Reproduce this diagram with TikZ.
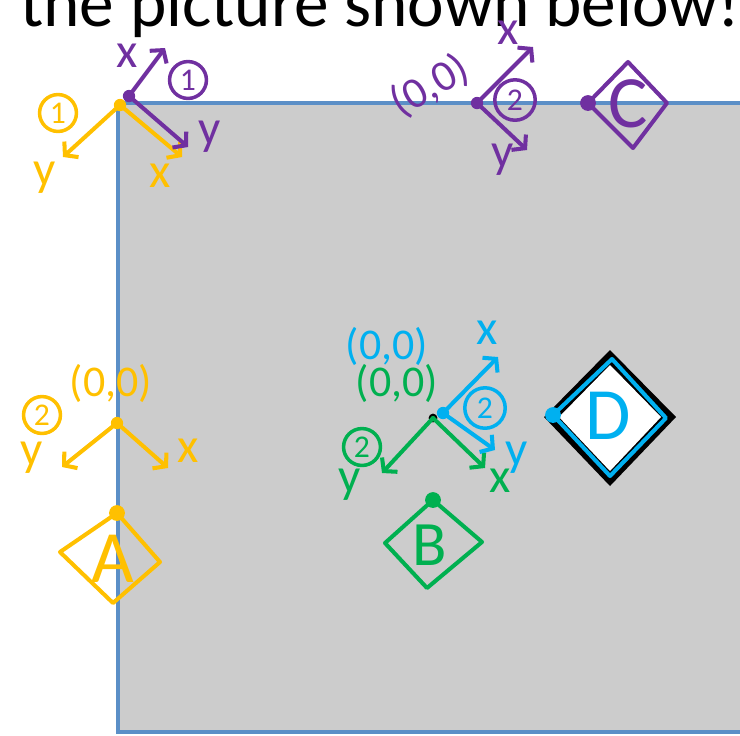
\documentclass[tikz,border=0pt]{standalone}
\usepackage{fontspec}
\setmainfont{Carlito}
\usepackage{xcolor}
\usetikzlibrary{arrows.meta}

\definecolor{amber}{HTML}{FFC000}
\definecolor{plum}{HTML}{7030A0}
\definecolor{leaf}{HTML}{00B050}
\definecolor{sky}{HTML}{00B0F0}
\definecolor{panel}{HTML}{CCCCCC}
\definecolor{rim}{HTML}{5B8FC7}

\tikzset{
  pen/.style={line width=2.3pt, line cap=round, line join=round},
  axis/.style={pen, -{Straight Barb[length=5pt,width=12pt,line width=2.3pt]}},
  dot/.style={circle, fill, inner sep=0pt, minimum size=7pt},
  lbl/.style={inner sep=0pt, font=\fontsize{28}{28}\selectfont},
  ring/.style={circle, draw, line width=2pt, inner sep=0pt, minimum size=21pt, font=\fontsize{18}{18}\selectfont},
  orig/.style={inner sep=0pt, font=\fontsize{25}{25}\selectfont},
  tag/.style={inner sep=0pt, font=\fontsize{42}{42}\selectfont}
}

\begin{document}
\begin{tikzpicture}[x=0.02cm, y=-0.02cm]
            \useasboundingbox (0,0) rectangle (740,735);
            \clip (0,0) rectangle (740,735);

            % Draw title (cut at top)
            \node[anchor=base west, inner sep=0pt, font=\fontsize{39.4}{39.4}\selectfont] (title) at (20,26) {the picture shown below!};

            % Draw grey panel
            \draw[rim, line width=2pt, fill=panel] (118,103) rectangle (790,732);

            % Frame 1, yellow
            \node[dot, amber] (a1) at (120,105) {};
            \coordinate (a1x) at (182,157);
            \coordinate (a1y) at (63,157);
            \draw[axis, amber] (a1.center) -- (a1x);
            \draw[axis, amber] (a1.center) -- (a1y);
            \node[lbl, amber] (a1xl) at (160,176) {x};
            \node[lbl, amber] (a1yl) at (45,178) {y};
            \node[ring, amber] (a1r) at (58,113) {1};

            % Frame 1, purple
            \node[dot, plum] (p1) at (129,96) {};
            \coordinate (p1x) at (165,48);
            \coordinate (p1y) at (188,147);
            \draw[axis, plum] (p1.center) -- (p1x);
            \draw[axis, plum] (p1.center) -- (p1y);
            \node[lbl, plum] (p1xl) at (127,56) {x};
            \node[lbl, plum] (p1yl) at (210,137) {y};
            \node[ring, plum] (p1r) at (188,80) {1};

            % Frame 2, purple
            \node[dot, plum] (p2) at (477,103) {};
            \coordinate (p2x) at (533,47);
            \coordinate (p2y) at (527,150);
            \draw[axis, plum] (p2.center) -- (p2x);
            \draw[axis, plum] (p2.center) -- (p2y);
            \node[lbl, plum] (p2xl) at (508,33) {x};
            \node[lbl, plum] (p2yl) at (503,160) {y};
            \node[ring, plum, minimum size=23pt] (p2r) at (515,100) {2};
            \node[orig, plum, rotate=30] (p2o) at (430,86) {(0,0)};

            % Body C
            \coordinate (cl) at (588,103);
            \coordinate (ct) at (628,62);
            \coordinate (cr) at (667,103);
            \coordinate (cb) at (633,148);
            \draw[pen, plum] (cl) -- (ct) -- (cr) -- (cb) -- cycle;
            \node[dot, plum, minimum size=9pt] (cd) at (cl) {};
            \node[tag, plum] (cn) at (628,104) {C};

            % Frame 2, yellow
            \node[dot, amber] (a2) at (117,423) {};
            \coordinate (a2x) at (168,468);
            \coordinate (a2y) at (62,467);
            \draw[axis, amber] (a2.center) -- (a2x);
            \draw[axis, amber] (a2.center) -- (a2y);
            \node[lbl, amber] (a2xl) at (188,451) {x};
            \node[lbl, amber] (a2yl) at (32,458) {y};
            \node[ring, amber] (a2r) at (42,415) {2};
            \node[orig, amber] (a2o) at (111,383) {(0,0)};

            % Body A
            \coordinate (al) at (60,552);
            \coordinate (at) at (117,513);
            \coordinate (ar) at (160,562);
            \coordinate (ab) at (113,603);
            \draw[pen, amber] (al) -- (at) -- (ar) -- (ab) -- cycle;
            \node[dot, amber, minimum size=9pt] (ad) at (at) {};
            \node[tag, amber] (an) at (113,559) {A};

            % Frame 2, green
            \node[dot, black, minimum size=5pt] (g2) at (433,418) {};
            \coordinate (g2x) at (485,468);
            \coordinate (g2y) at (382,473);
            \draw[axis, leaf] (g2.center) -- (g2x);
            \draw[axis, leaf] (g2.center) -- (g2y);
            \node[lbl, leaf] (g2xl) at (500,481) {x};
            \node[lbl, leaf] (g2yl) at (350,485) {y};
            \node[ring, leaf] (g2r) at (362,447) {2};
            \node[orig, leaf] (g2o) at (397,383) {(0,0)};

            % Frame 2, blue
            \node[dot, sky] (s2) at (443,413) {};
            \coordinate (s2x) at (498,357);
            \coordinate (s2y) at (495,450);
            \draw[axis, sky] (s2.center) -- (s2x);
            \draw[axis, sky] (s2.center) -- (s2y);
            \node[lbl, sky] (s2xl) at (487,333) {x};
            \node[lbl, sky] (s2yl) at (517,458) {y};
            \node[ring, sky, minimum size=23pt] (s2r) at (485,408) {2};
            \node[orig, sky] (s2o) at (387,346) {(0,0)};

            % Body B
            \coordinate (bl) at (385,543);
            \coordinate (bt) at (433,500);
            \coordinate (br) at (482,542);
            \coordinate (bb) at (427,588);
            \draw[pen, leaf] (bl) -- (bt) -- (br) -- (bb) -- cycle;
            \node[dot, leaf, minimum size=9pt] (bd) at (bt) {};
            \node[tag, leaf, font=\fontsize{36}{36}\selectfont] (bn) at (430,545) {B};

            % Body D
            \fill[black] (544,417) -- (610,350) -- (676,417) -- (610,486) -- cycle;
            \fill[white] (559,417) -- (610,365) -- (661,417) -- (610,471) -- cycle;
            \coordinate (dl) at (553,415);
            \coordinate (dt) at (612,359);
            \coordinate (dr) at (666,418);
            \coordinate (db) at (610,476);
            \draw[pen, sky] (dl) -- (dt) -- (dr) -- (db) -- cycle;
            \node[dot, sky, minimum size=9pt] (dd) at (dl) {};
            \node[tag, sky] (dn) at (608,416) {D};
        \end{tikzpicture}
\end{document}
